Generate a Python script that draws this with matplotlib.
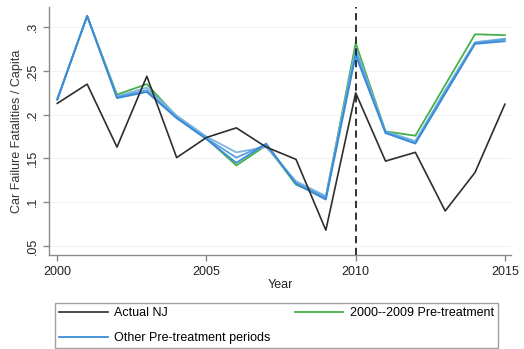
import matplotlib.pyplot as plt
import numpy as np

plt.rcParams['font.family'] = ['Liberation Sans', 'DejaVu Sans']

years = list(range(2000, 2016))

# Observed series
actual_nj = [0.213, 0.235, 0.163, 0.244, 0.151, 0.174, 0.185, 0.163,
             0.149, 0.068, 0.225, 0.147, 0.157, 0.090, 0.134, 0.212]

# Synthetic control fitted on 2000-2009
pre_2000_2009 = [0.218, 0.313, 0.223, 0.235, 0.198, 0.173, 0.142, 0.165,
                 0.120, 0.106, 0.282, 0.181, 0.176, 0.234, 0.292, 0.291]

# Synthetic controls fitted on other pre-treatment windows
other_pre = [
    [0.217, 0.313, 0.219, 0.226, 0.196, 0.172, 0.145, 0.167,
     0.121, 0.103, 0.268, 0.179, 0.167, 0.224, 0.281, 0.284],
    [0.218, 0.313, 0.220, 0.228, 0.197, 0.173, 0.151, 0.166,
     0.122, 0.105, 0.272, 0.180, 0.168, 0.226, 0.282, 0.286],
    [0.218, 0.313, 0.221, 0.231, 0.199, 0.175, 0.157, 0.163,
     0.124, 0.107, 0.276, 0.181, 0.170, 0.228, 0.283, 0.287],
]
other_colors = ['#3a8bd6', '#5a9fdc', '#7db4e4']

yticks = [0.05, 0.1, 0.15, 0.2, 0.25, 0.3]
ytick_labels = ['.05', '.1', '.15', '.2', '.25', '.3']
xticks = [2000, 2005, 2010, 2015]

fig = plt.figure(figsize=(5.24, 3.49), dpi=100)
ax = fig.add_axes([0.094, 0.269, 0.882, 0.711])

for i, s in enumerate(other_pre[::-1]):
    ax.plot(years, s, color=other_colors[::-1][i], lw=1.3, zorder=2)
ax.plot(years, pre_2000_2009, color='#44b04a', lw=1.3, zorder=1.5)
ax.plot(years, actual_nj, color='#2e2e2e', lw=1.2, zorder=3)
ax.axvline(2010, color='#222222', lw=1.3, ls=(0, (4, 2.5)), zorder=4)

ax.set_xlim(1999.73, 2015.22)
ax.set_ylim(0.0395, 0.3232)
ax.set_xticks(xticks)
ax.set_yticks(yticks)
ax.set_yticklabels(ytick_labels, rotation=90, va='center')
ax.grid(axis='y', color='#f2f2f2', lw=0.8)
ax.set_axisbelow(True)

for side in ['top', 'right']:
    ax.spines[side].set_visible(False)
for side in ['left', 'bottom']:
    ax.spines[side].set_color('#8a8a8a')
    ax.spines[side].set_linewidth(1.0)
ax.tick_params(colors='#8a8a8a', labelcolor='#222222', labelsize=9,
               length=4, width=1.0)

ax.set_xlabel('Year', fontsize=9, color='#222222', labelpad=1)
ax.set_ylabel('Car Failure Fatalities / Capita', fontsize=9,
              color='#3a3030', labelpad=3)

handles = [
    plt.Line2D([], [], color='#2e2e2e', lw=1.2),
    plt.Line2D([], [], color='#3a8bd6', lw=1.3),
    plt.Line2D([], [], color='#44b04a', lw=1.3),
]
labels = ['Actual NJ', 'Other Pre-treatment periods', '2000--2009 Pre-treatment']
leg = fig.legend(handles, labels, ncol=2, loc='upper left',
                 bbox_to_anchor=(55 / 524, 1 - 303 / 349),
                 fontsize=9, frameon=True, fancybox=False,
                 edgecolor='#8a8a8a', handlelength=3.9, handletextpad=0.5,
                 columnspacing=1.9, borderpad=0.35, labelspacing=1.0,
                 borderaxespad=0)
leg.get_frame().set_linewidth(1.0)

fig.savefig('out.png', dpi=100)
